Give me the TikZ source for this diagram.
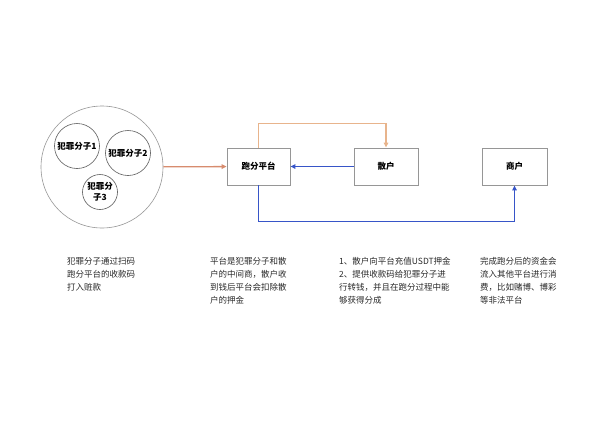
\documentclass[tikz,border=0pt]{standalone}
\usepackage{fontspec}
\setmainfont{Noto Sans CJK SC}
\usetikzlibrary{arrows.meta, positioning}
\definecolor{edgegray}{RGB}{150,150,150}
\definecolor{ringgray}{RGB}{90,90,90}
\definecolor{darkorange}{RGB}{215,140,110}
\definecolor{lightorange}{RGB}{232,180,140}
\definecolor{linkblue}{RGB}{55,85,200}
\definecolor{textgray}{RGB}{40,40,40}
\tikzset{
  box/.style={rectangle, draw=edgegray, fill=white, line width=0.8pt,
              minimum width=64pt, minimum height=37pt,
              text centered, font=\fontsize{8.5}{10}\selectfont\bfseries},
  member/.style={circle, draw=ringgray, line width=0.6pt, inner sep=0pt,
                 align=center, font=\fontsize{8.5}{11}\selectfont\bfseries},
  note/.style={anchor=north west, align=left, inner sep=0pt, text=textgray,
               font=\fontsize{8.5}{13}\selectfont},
  arr/.style={-{Triangle[length=5pt,width=4.5pt]}, line width=1.3pt}
}

\begin{document}
\begin{tikzpicture}[x=1pt, y=-1pt]
  \useasboundingbox (0,0) rectangle (600,424);

  % Nodes
  \node[circle, draw=edgegray, line width=0.6pt, minimum size=122pt] (crowd) at (102,167) {};
  \node[member, minimum size=45pt] (m1) at (77,146)  {犯罪分子1};
  \node[member, minimum size=45pt] (m2) at (128,153) {犯罪分子2};
  \node[member, minimum size=35pt] (m3) at (100,192) {犯罪分\\子3};

  \node[box, minimum width=63pt] (platform) at (258.5,166.5) {跑分平台};
  \node[box] (retail)   at (386,166.5)   {散户};
  \node[box, minimum width=65pt] (merchant) at (514.5,166.5) {商户};

  % Notes
  \node[note] (n1) at (67,257)  {犯罪分子通过扫码\\跑分平台的收款码\\打入赃款};
  \node[note] (n2) at (210,257) {平台是犯罪分子和散\\户的中间商，散户收\\到钱后平台会扣除散\\户的押金};
  \node[note] (n3) at (339,257) {1、散户向平台充值USDT押金\\2、提供收款码给犯罪分子进\\行转钱，并且在跑分过程中能\\够获得分成};
  \node[note] (n4) at (480,257) {完成跑分后的资金会\\流入其他平台进行消\\费，比如赌博、博彩\\等非法平台};

  % Arrows
  \draw[arr, darkorange] (crowd) -- (platform);
  \draw[arr, lightorange] (platform.north) -- ++(0,-24) -| (retail.north);
  \draw[arr, linkblue] (retail) -- (platform);
  \draw[arr, linkblue] (platform.south) -- ++(0,36) -| (merchant.south);

\end{tikzpicture}
\end{document}
